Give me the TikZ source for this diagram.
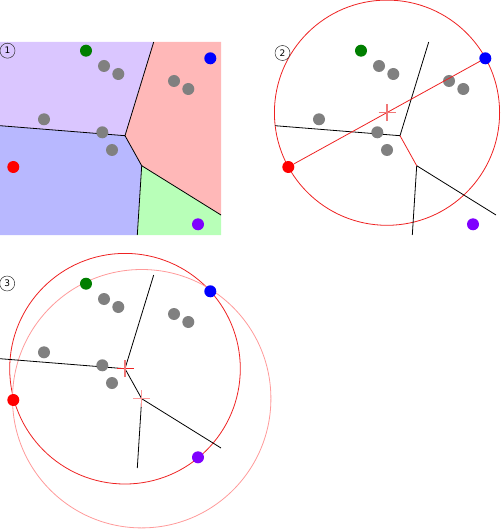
\documentclass[tikz,border=0pt]{standalone}
\usepackage{fontspec}
\setmainfont{DejaVu Sans}
\definecolor{cpurple}{HTML}{DAC6FF}
\definecolor{cpink}{HTML}{FFB8B8}
\definecolor{cblue}{HTML}{B8B8FF}
\definecolor{cgreen}{HTML}{B8FFB8}
\definecolor{sgreen}{HTML}{007F00}
\definecolor{sblue}{HTML}{0000FF}
\definecolor{sred}{HTML}{FF0000}
\definecolor{spurple}{HTML}{7F00FF}
\definecolor{sgray}{HTML}{808080}
\definecolor{cred}{HTML}{EE2222}
\definecolor{lred}{HTML}{FF9A9A}
\definecolor{xred}{HTML}{F07878}
\newcommand{\seedset}[3]{%
 \begin{scope}[shift={(#1,#2)}]
  \node[dot,fill=sgreen] (G#3) at (86,50.7) {};
  \node[dot,fill=sblue] (B#3) at (210.3,58.3) {};
  \node[dot,fill=sred] (R#3) at (13.3,167) {};
  \node[dot,fill=spurple] (P#3) at (198,224.3) {};
  \node[dot,fill=sgray] (a#3) at (104,66) {};
  \node[dot,fill=sgray] (b#3) at (118.3,74) {};
  \node[dot,fill=sgray] (c#3) at (174,81) {};
  \node[dot,fill=sgray] (d#3) at (188.3,89) {};
  \node[dot,fill=sgray] (e#3) at (44,119.3) {};
  \node[dot,fill=sgray] (f#3) at (102.3,132.3) {};
  \node[dot,fill=sgray] (h#3) at (112,150) {};
 \end{scope}}
\newcommand{\vorpts}[3]{%
 \begin{scope}[shift={(#1,#2)}]
  \coordinate (T#3) at (153.7,42);
  \coordinate (V#3) at (125,135.7);
  \coordinate (L#3) at (0,125.7);
  \coordinate (W#3) at (141.7,165.7);
  \coordinate (D#3) at (137.3,235);
  \coordinate (E#3) at (221,215);
 \end{scope}}
\begin{document}
\begin{tikzpicture}[x=1pt,y=-1pt,
  dot/.style={circle,inner sep=0pt,minimum size=12pt,draw=none},
  tag/.style={circle,draw=black!80,line width=0.5pt,inner sep=0pt,minimum size=15pt,font=\fontsize{9}{9}\selectfont},
  vline/.style={draw=black,line width=0.8pt},
  crossmark/.style={line width=1.3pt}]
\useasboundingbox (0,0) rectangle (500,529);
% ---------- panel 1 ----------
\vorpts{0}{0}{1}
\fill[cpurple] (0,42) -- (T1) -- (V1) -- (L1) -- cycle;
\fill[cpink] (T1) -- (221,42) -- (E1) -- (W1) -- (V1) -- cycle;
\fill[cblue] (L1) -- (V1) -- (W1) -- (D1) -- (0,235) -- cycle;
\fill[cgreen] (W1) -- (E1) -- (221,235) -- (D1) -- cycle;
\draw[vline] (T1) -- (V1) -- (L1);
\draw[vline] (V1) -- (W1) -- (D1);
\draw[vline] (W1) -- (E1);
\node[tag] (n1) at (7.5,50.7) {1};
\seedset{0}{0}{1}
% ---------- panel 2 ----------
\vorpts{275}{0}{2}
\coordinate (C2) at (387,112.7);
\draw[cred,line width=0.8pt] (C2) circle[radius=112.6];
\draw[vline] (T2) -- (V2) -- (L2);
\draw[vline] (W2) -- (D2);
\draw[vline] (W2) -- (E2);
\draw[cred,line width=0.8pt] (V2) -- (W2);
\node[tag,fill=white] (n2) at (282.5,53) {2};
\seedset{275}{0}{2}
\draw[cred,line width=0.8pt] (R2) -- (B2);
\draw[xred,crossmark] ([xshift=-8.5pt]C2) -- ([xshift=8.5pt]C2);
\draw[xred,crossmark] ([yshift=-8.5pt]C2) -- ([yshift=8.5pt]C2);
% ---------- panel 3 ----------
\vorpts{0}{233}{3}
\draw[cred,line width=0.8pt] (V3) circle[radius=115.3];
\draw[lred,line width=0.8pt] (W3) circle[radius=129.2];
\draw[vline] (T3) -- (V3) -- (L3);
\draw[vline] (V3) -- (W3) -- (D3);
\draw[vline] (W3) -- (E3);
\node[tag] (n3) at (7.2,283.5) {3};
\seedset{0}{233}{3}
\draw[cred,crossmark] ([xshift=-8.5pt]V3) -- ([xshift=8.5pt]V3);
\draw[xred,crossmark] ([yshift=-8.5pt]V3) -- ([yshift=8.5pt]V3);
\draw[lred,crossmark] ([xshift=-8.5pt]W3) -- ([xshift=8.5pt]W3);
\draw[lred,crossmark] ([yshift=-8.5pt]W3) -- ([yshift=8.5pt]W3);
\end{tikzpicture}
\end{document}
